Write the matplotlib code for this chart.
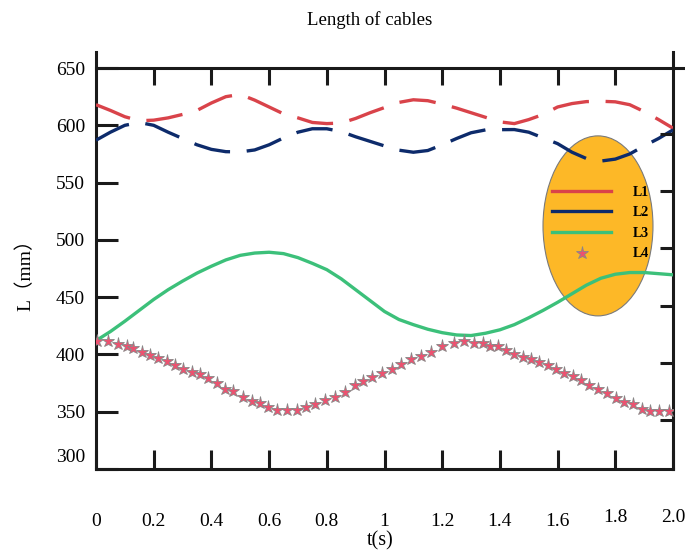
import matplotlib
matplotlib.use('Agg')
import matplotlib.pyplot as plt
from matplotlib.patches import Ellipse
from matplotlib.lines import Line2D
from matplotlib.transforms import ScaledTranslation

plt.rcParams['font.family'] = ['Liberation Serif', 'Noto Sans CJK SC']

# time grid for the three cable lines (s)
t = [0.00, 0.05, 0.10, 0.15, 0.20, 0.25, 0.30, 0.35, 0.40, 0.45,
     0.50, 0.55, 0.60, 0.65, 0.70, 0.75, 0.80, 0.85, 0.90, 0.95,
     1.00, 1.05, 1.10, 1.15, 1.20, 1.25, 1.30, 1.35, 1.40, 1.45,
     1.50, 1.55, 1.60, 1.65, 1.70, 1.75, 1.80, 1.85, 1.90, 1.95, 2.00]

L1 = [618, 613, 607.5, 604, 604.5, 606.5, 609.5, 613, 619.5, 625,
      627, 622, 616, 610, 606.5, 602.5, 601.5, 602, 606, 611,
      615.5, 620, 622.3, 621.5, 618.5, 615, 611, 607, 603, 601.5,
      605, 609.5, 616, 619, 620.7, 621, 620.5, 618, 612, 605, 597.5]

L2 = [587, 594, 600, 602.5, 600, 594, 588.5, 583, 579, 577,
      576.8, 578.5, 583, 589, 594, 597, 597, 594.5, 590, 586,
      582, 578.3, 576.5, 578, 583, 588.5, 593.5, 596, 596.2, 596.3,
      594, 589, 584, 576.5, 571, 568.8, 570.5, 575, 582, 588.5, 596]

L3 = [412, 420, 429, 438.5, 448, 456.5, 464, 471, 477, 482.5,
      486.5, 488.5, 489.2, 488, 484.5, 479.5, 474, 466, 456.5, 447,
      437.5, 430.5, 426, 422, 419, 417, 416.5, 418.5, 421.5, 426,
      432, 438.5, 445.5, 453, 460.5, 466.5, 470, 471.5, 471.5, 470.5, 469.5]

# L4 sampled points (star markers)
t4 = [0.002, 0.043, 0.077, 0.106, 0.129, 0.158, 0.187, 0.216, 0.245, 0.274,
      0.303, 0.332, 0.360, 0.389, 0.418, 0.447, 0.476, 0.511, 0.540, 0.568,
      0.597, 0.626, 0.661, 0.696, 0.728, 0.759, 0.794, 0.828, 0.863, 0.898,
      0.927, 0.956, 0.990, 1.025, 1.057, 1.091, 1.125, 1.160, 1.198, 1.242,
      1.277, 1.310, 1.340, 1.366, 1.392, 1.421, 1.449, 1.479, 1.508, 1.537,
      1.566, 1.594, 1.623, 1.652, 1.680, 1.710, 1.741, 1.770, 1.802, 1.831,
      1.860, 1.891, 1.920, 1.953, 1.987]
L4 = [411.6, 411.6, 409.3, 407.2, 405.2, 402, 399.1, 397.1, 394.2, 391,
      387.6, 384.6, 382.6, 379.7, 375.4, 370.2, 368.1, 362.9, 359.4, 357.7,
      353.7, 351.9, 351.9, 351.9, 353.7, 357.1, 360, 362.9, 367.2, 373.7,
      376.5, 380.3, 384.1, 387.6, 391.9, 395.7, 398.5, 402.3, 407, 410.2,
      411.6, 410.2, 409.6, 407.8, 407, 404.3, 400.6, 397.7, 395.7, 393.3,
      390.4, 387, 383.8, 380.9, 377.4, 373.6, 369.6, 366.7, 362, 358.5,
      356.5, 352.8, 350.7, 350.7, 350.7]

xticks = [0, 0.2, 0.4, 0.6, 0.8, 1.0, 1.2, 1.4, 1.6, 1.8, 2.0]
xticklabels = ['0', '0.2', '0.4', '0.6', '0.8', '1', '1.2', '1.4', '1.6', '1.8', '2.0']
yticks = [300, 350, 400, 450, 500, 550, 600, 650]

c1, c2, c3, c4 = '#d9434a', '#0d2b6b', '#3cc07a', '#ec5270'

fig = plt.figure(figsize=(6.85, 5.52), dpi=100)
ax = fig.add_axes([96/685, 83/552, 577/685, 417/552])

ax.plot(t, L1, color=c1, lw=2.4, dashes=(11, 5), zorder=3)
ax.plot(t, L2, color=c2, lw=2.4, dashes=(11, 5), zorder=3)
ax.plot(t, L3, color=c3, lw=2.4, zorder=3)
ax.plot(t4, L4, ls='none', marker='*', ms=9.5, mfc=c4, mec='#888888',
        mew=0.6, zorder=4)

ax.set_xlim(0, 2.0)
ax.set_ylim(300, 664)

# spines
for s in ['left', 'bottom', 'right', 'top']:
    ax.spines[s].set_linewidth(2.2)
    ax.spines[s].set_color('#1a1a1a')
ax.spines['top'].set_position(('data', 650))
ax.spines['top'].set_bounds(0, 2.045)

ax.set_xticks(xticks)
ax.set_xticklabels(xticklabels, fontsize=14)
ax.set_yticks(yticks)
ax.set_yticklabels([str(v) for v in yticks], fontsize=14)
ax.tick_params(axis='x', direction='in', length=14, width=2.2, pad=32,
               top=False, color='#1a1a1a')
ax.tick_params(axis='y', direction='in', length=16, width=2.2, pad=8,
               right=False, color='#1a1a1a')

# "300" label sits a bit above the axis line
lab = ax.get_yticklabels()[0]
lab.set_transform(lab.get_transform() + ScaledTranslation(0, 0.13, fig.dpi_scale_trans))
# the last two x labels sit a little higher
for lab in ax.get_xticklabels()[-2:]:
    lab.set_transform(lab.get_transform() + ScaledTranslation(0, 0.04, fig.dpi_scale_trans))

# downward ticks hanging from the 650 line
for xv in xticks[1:-1]:
    ax.plot([xv, xv], [650, 635], color='#1a1a1a', lw=2.2, solid_capstyle='butt', zorder=2)

# right side ticks (slightly offset from left ones)
ax2 = ax.twinx()
ax2.set_ylim(307.5, 671.5)
ax2.set_yticks([350, 400, 450, 500, 550, 600])
ax2.set_yticklabels([])
ax2.tick_params(axis='y', direction='in', length=9.5, width=2.2, color='#1a1a1a')
for s in ax2.spines.values():
    s.set_visible(False)

fig.text(370/685, 1 - 20/552, 'Length of cables', fontsize=13.5, ha='center', va='center')
fig.text(380/685, 1 - 541/552, 't(s)', fontsize=14.5, ha='center', va='center')
fig.text(25/685, 1 - 270/552, 'L（mm）', fontsize=14, ha='center', va='center',
         rotation=90)

# legend on an orange ellipse
ell = Ellipse((0.870, 0.583), 0.1906, 0.4317, transform=ax.transAxes,
              facecolor='#fdb827', edgecolor='#7a7a7a', lw=0.8, zorder=1)
ax.add_patch(ell)
handles = [Line2D([], [], color=c1, lw=2.4),
           Line2D([], [], color=c2, lw=2.4),
           Line2D([], [], color=c3, lw=2.4),
           Line2D([], [], ls='none', marker='*', ms=9.5, mfc=c4, mec='#888888', mew=0.6)]
leg = ax.legend(handles, ['L1', 'L2', 'L3', 'L4'], loc='center',
                bbox_to_anchor=(0.875, 0.59), frameon=False,
                prop={'weight': 'bold', 'size': 10}, handlelength=4.2,
                handletextpad=1.6, labelspacing=0.55, borderpad=0)
leg.set_zorder(5)

fig.savefig('out.png', dpi=100)
